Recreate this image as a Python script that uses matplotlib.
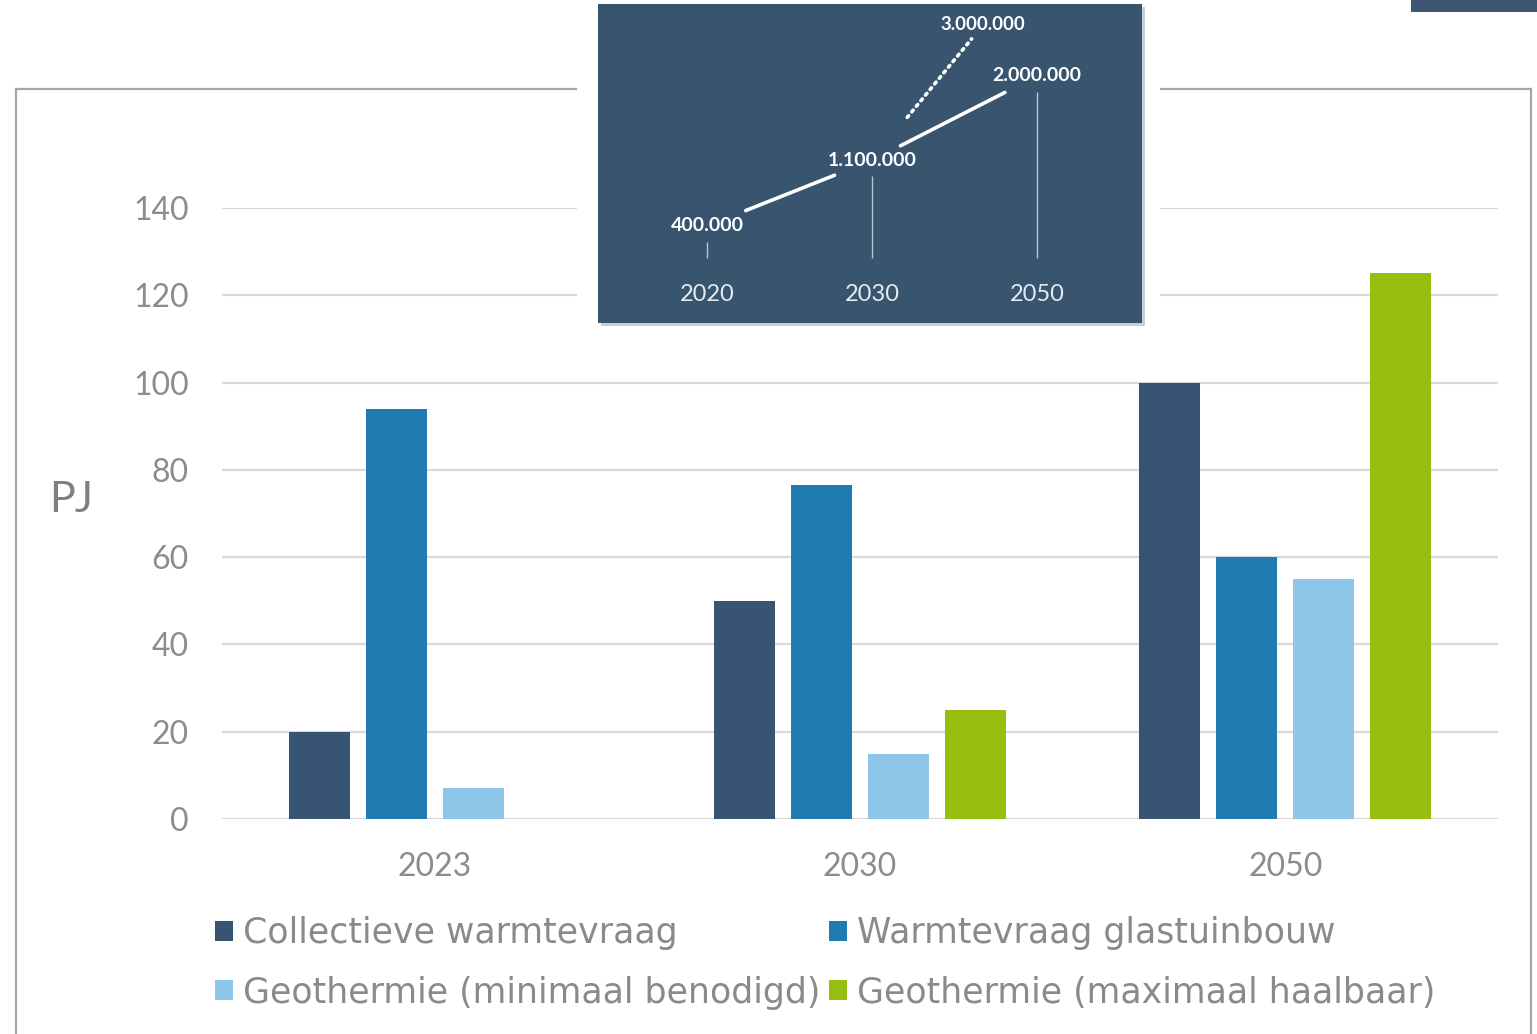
import matplotlib
matplotlib.use("Agg")
import matplotlib.pyplot as plt
from matplotlib.patches import Patch, Rectangle
from matplotlib.lines import Line2D
import numpy as np

plt.rcParams['font.family'] = ['Lato', 'DejaVu Sans']

# ---------------- data ----------------
categories = ['2023', '2030', '2050']
series_names = ['Collectieve warmtevraag', 'Warmtevraag glastuinbouw',
                'Geothermie (minimaal benodigd)', 'Geothermie (maximaal haalbaar)']
collectief = [20, 50, 100]
glastuinbouw = [94, 76.5, 60]
geo_min = [7, 15, 55]
geo_max = [0, 25, 125]
series_values = [collectief, glastuinbouw, geo_min, geo_max]
colors = ['#375572', '#1F7BB0', '#8DC6E8', '#95BE0F']
yticks = [0, 20, 40, 60, 80, 100, 120, 140]

inset_years = ['2020', '2030', '2050']
inset_values = [400000, 1100000, 2000000]
inset_max_value = 3000000

W, H = 1537, 1034
fig = plt.figure(figsize=(W / 100, H / 100), dpi=100)
fig.patch.set_facecolor('white')

def fx(px):
    return px / W

def fy(py):
    return 1 - py / H

# ---------------- outer frame ----------------
frame_c = '#A6A6A6'
fig.add_artist(Line2D([fx(16), fx(16)], [fy(89), fy(1040)], color=frame_c, lw=1.6))
fig.add_artist(Line2D([fx(16), fx(1531)], [fy(89), fy(89)], color=frame_c, lw=1.6))
fig.add_artist(Line2D([fx(1531), fx(1531)], [fy(89), fy(1040)], color=frame_c, lw=1.6))
# top-right navy tab
fig.add_artist(Rectangle((fx(1411), fy(12)), fx(1537) - fx(1411), fy(0) - fy(12),
                         facecolor='#3D5573', edgecolor='none'))

# ---------------- main axes ----------------
ax = fig.add_axes([fx(222), fy(819), fx(1498) - fx(222), fy(208) - fy(819)])
x = np.arange(len(categories))
step = 77 / 425.3
bw = 61 / 425.3
n = len(series_values)
for i, (vals, c) in enumerate(zip(series_values, colors)):
    ax.bar(x + (i - (n - 1) / 2) * step, vals, width=bw, color=c, zorder=3,
           label=series_names[i])

ax.set_xlim(-0.5, len(categories) - 0.5)
ax.set_ylim(0, 140)
ax.set_yticks(yticks)
ax.set_yticklabels([str(v) for v in yticks])
ax.set_xticks(x)
ax.set_xticklabels(categories)
for s in ax.spines.values():
    s.set_visible(False)
ax.grid(axis='y', color='#D9D9D9', lw=1.6, zorder=0)
ax.set_axisbelow(True)
ax.tick_params(axis='both', length=0, labelsize=23, labelcolor='#8C8C8C')
ax.tick_params(axis='y', pad=24)
ax.tick_params(axis='x', pad=24)
ax.set_facecolor('none')

fig.text(fx(71), fy(500), 'PJ', fontsize=31, color='#7F7F7F', ha='center', va='center')

# ---------------- legend ----------------
handles = [Patch(facecolor=c, edgecolor='none') for c in colors]
order = [0, 2, 1, 3]
leg = fig.legend([handles[i] for i in order], [series_names[i] for i in order],
                 ncol=2, loc='center left', bbox_to_anchor=(fx(184), fy(963)),
                 frameon=False, prop={'family': 'DejaVu Sans', 'size': 25},
                 handlelength=0.52, handleheight=0.52,
                 handletextpad=0.28, columnspacing=0.25, labelspacing=0.72,
                 labelcolor='#8A8A8A')

# ---------------- white gap behind inset ----------------
fig.add_artist(Rectangle((fx(577), fy(335)), fx(1160) - fx(577), fy(0) - fy(335),
                         facecolor='white', edgecolor='none', zorder=5))
# shadow
fig.add_artist(Rectangle((fx(601), fy(326)), fx(1145) - fx(601), fy(7) - fy(326),
                         facecolor='#C8CDD3', edgecolor='none', zorder=6))

# ---------------- inset ----------------
ai = fig.add_axes([fx(598), fy(323), fx(1142) - fx(598), fy(4) - fy(323)], zorder=7)
ai.set_facecolor('#38546F')
ai.set_xlim(-0.66, 2.636)
ai.set_ylim(-635000, 2768000)
ai.set_xticks([])
ai.set_yticks([])
for s in ai.spines.values():
    s.set_visible(False)

xi = np.arange(len(inset_years))
def fmt(v):
    return f'{v:,}'.replace(',', '.')

for xx, v in zip(xi, inset_values):
    ai.text(xx, v, fmt(v), color='white', fontsize=14, fontweight='bold',
            ha='center', va='center')
    ai.vlines(xx, 58000, v - 170000, color='#B8C4D2', lw=1.0)
for xx, yr in zip(xi, inset_years):
    ai.text(xx, 0.09, yr, transform=ai.get_xaxis_transform(), color='#E6EBF1',
            fontsize=17, ha='center', va='center')

# 3.000.000 label placed between 2030 and 2050 (as in the original graphic)
max_pos = (1.673, 2545000)
ai.text(max_pos[0], max_pos[1], fmt(inset_max_value), color='white', fontsize=13.5,
        fontweight='bold', ha='center', va='center')

ai.annotate('', xy=(xi[1], inset_values[1]), xytext=(xi[0], inset_values[0]),
            arrowprops=dict(arrowstyle='-', color='white', lw=2.6,
                            shrinkA=30, shrinkB=29))
ai.annotate('', xy=(xi[2], inset_values[2]), xytext=(xi[1], inset_values[1]),
            arrowprops=dict(arrowstyle='-', color='white', lw=2.6,
                            shrinkA=23, shrinkB=26))
ai.annotate('', xy=max_pos, xytext=(xi[1], inset_values[1]),
            arrowprops=dict(arrowstyle='-', color='white', lw=2.6, linestyle=(0, (0.6, 1.4)),
                            shrinkA=40, shrinkB=13))

fig.savefig('out.png', dpi=100, facecolor='white')
